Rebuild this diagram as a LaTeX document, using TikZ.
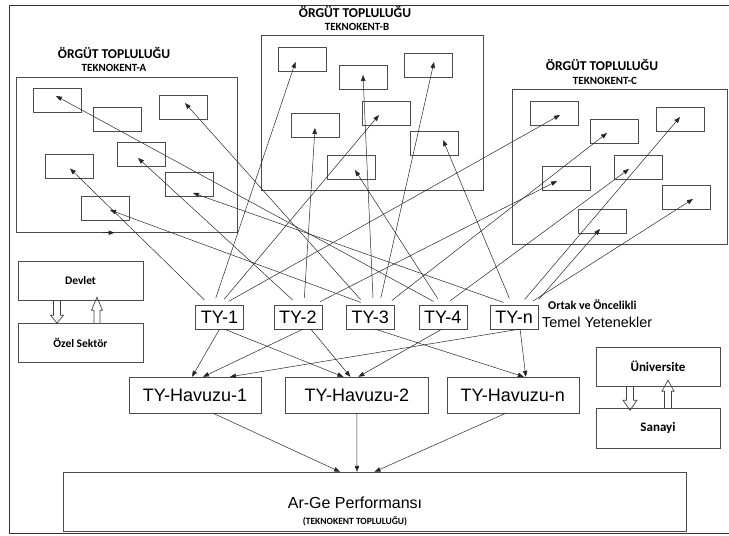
\documentclass[tikz,border=0pt]{standalone}
\usepackage{fontspec}
\setmainfont{Liberation Sans}
\newfontfamily\calfont{Carlito}
\usetikzlibrary{positioning,arrows.meta}

\begin{document}
\begin{tikzpicture}[x=1pt,y=-1pt,
    every node/.style={inner sep=1pt},
    cell/.style={draw=black!70,minimum width=48pt,minimum height=24pt},
    group/.style={draw=black!70,minimum height=155pt},
    ty/.style={draw=black!70,minimum width=48pt,minimum height=24pt,font=\fontsize{18}{20}\selectfont},
    pool/.style={draw=black!70,minimum width=132pt,minimum height=36pt,font=\fontsize{18}{20}\selectfont},
    actor/.style={draw=black!70,minimum width=125pt,minimum height=39pt,font=\calfont\bfseries\fontsize{11.5}{13}\selectfont},
    title/.style={inner sep=0pt,font=\calfont\bfseries\fontsize{13.5}{15}\selectfont},
    subtitle/.style={inner sep=0pt,font=\calfont\bfseries\fontsize{11}{13}\selectfont},
    tip/.style={black!85,line width=0.5pt,-{Triangle[length=6pt,width=4.5pt]}},
    hollow/.style={black!75,line width=0.7pt}
  ]
   \useasboundingbox (0,0) rectangle (729,536);
   \draw[black!80,line width=1pt] (729,5) -- (9,5) -- (9,533) -- (729,533);

   % organisation groups
   \node[group,minimum width=221pt] (grp_a) at (126.5,155) {};
   \node[group,minimum width=222pt] (grp_b) at (372,112.5) {};
   \node[group,minimum width=215pt] (grp_c) at (620,166.5) {};
   \node[title] (ttl_a) at (114,53) {ÖRGÜT TOPLULUĞU};
   \node[subtitle] (sub_a) at (114,68) {TEKNOKENT-A};
   \node[title] (ttl_b) at (355,12) {ÖRGÜT TOPLULUĞU};
   \node[subtitle] (sub_b) at (357,26.5) {TEKNOKENT-B};
   \node[title] (ttl_c) at (602,65) {ÖRGÜT TOPLULUĞU};
   \node[subtitle] (sub_c) at (605,81) {TEKNOKENT-C};

   \node[cell] (a_1) at (57,100.5) {};
   \node[cell] (a_2) at (117.5,119) {};
   \node[cell] (a_3) at (183.5,107) {};
   \node[cell] (a_4) at (141.5,154.5) {};
   \node[cell] (a_5) at (69,166.5) {};
   \node[cell] (a_6) at (189,184) {};
   \node[cell] (a_7) at (105,208) {};

   \node[cell] (b_1) at (302.5,59) {};
   \node[cell] (b_2) at (363,77) {};
   \node[cell] (b_3) at (428.5,65) {};
   \node[cell] (b_4) at (315,125) {};
   \node[cell] (b_5) at (386.5,113) {};
   \node[cell] (b_6) at (434.5,143) {};
   \node[cell] (b_7) at (351,167) {};

   \node[cell] (c_1) at (554.5,113) {};
   \node[cell] (c_2) at (614,131) {};
   \node[cell] (c_3) at (680,119) {};
   \node[cell] (c_4) at (566,178.5) {};
   \node[cell] (c_5) at (638,167) {};
   \node[cell] (c_6) at (686.5,197) {};
   \node[cell] (c_7) at (602,221) {};

   % core competences
   \node[ty] (ty_1) at (219.5,317) {TY-1};
   \node[ty,right=30pt of ty_1] (ty_2) {TY-2};
   \node[ty,right=24pt of ty_2] (ty_3) {TY-3};
   \node[ty,right=24pt of ty_3] (ty_4) {TY-4};
   \node[ty,right=23pt of ty_4] (ty_n) {TY-n};
   \node[subtitle,font=\calfont\bfseries\fontsize{12}{14}\selectfont,anchor=west] (ortak) at (548,305) {Ortak ve Öncelikli};
   \node[inner sep=0pt,font=\fontsize{14.4}{16}\selectfont,anchor=west] (temel) at (542,322) {Temel Yetenekler};

   % pools
   \node[pool] (hv_1) at (195,395) {TY-Havuzu-1};
   \node[pool,minimum width=143pt,right=24pt of hv_1] (hv_2) {TY-Havuzu-2};
   \node[pool,right=18pt of hv_2] (hv_n) {TY-Havuzu-n};

   \node[draw=black!70,minimum width=623pt,minimum height=59pt] (arge) at (374.5,501.5) {};
   \node[font=\fontsize{16}{18}\selectfont] (arge_t) at (355,503) {Ar-Ge Performansı};
   \node[font=\calfont\bfseries\fontsize{9.5}{11}\selectfont] (arge_s) at (355,521) {(TEKNOKENT TOPLULUĞU)};

   % actors
   \node[actor] (dev) at (80.5,280.5) {Devlet};
   \node[actor,below=23pt of dev] (ozel) {Özel Sektör};
   \node[actor,minimum width=124pt,font=\calfont\bfseries\fontsize{13}{15}\selectfont] (uni) at (658,366.5) {Üniversite};
   \node[actor,minimum width=124pt,minimum height=40pt,font=\calfont\bfseries\fontsize{13}{15}\selectfont,below=22pt of uni] (san) {Sanayi};

   \draw[hollow] ([xshift=-23.5pt]dev.south) ++(-3.5,0) -- ++(0,15) -- ++(-3,0) -- ++(6.5,8) -- ++(6.5,-8) -- ++(-3,0) -- ++(0,-15);
   \draw[hollow] ([xshift=16.5pt]ozel.north) ++(-3,0) -- ++(0,-13) -- ++(-2.5,0) -- ++(5.5,-13) -- ++(5.5,13) -- ++(-2.5,0) -- ++(0,13);
   \draw[hollow] ([xshift=-28pt]uni.south) ++(-3.5,0) -- ++(0,14) -- ++(-3.5,0) -- ++(7,10) -- ++(7,-10) -- ++(-3.5,0) -- ++(0,-14);
   \draw[hollow] ([xshift=10pt]san.north) ++(-3.5,0) -- ++(0,-17) -- ++(-2.5,0) -- ++(6,-11) -- ++(6,11) -- ++(-2.5,0) -- ++(0,17);

   % links to the groups
   \path[tip,shorten <=7pt]
    ([xshift=-10pt]ty_1.north) edge ([shift={(1,2)}]a_5.center)
    ([xshift=-6pt]ty_1.north) edge ([shift={(-7,3)}]b_1.center)
    (ty_1.north) edge ([shift={(-7.5,2)}]b_5.center)
    ([xshift=3pt]ty_1.north) edge ([shift={(5.5,2)}]c_1.center)
    (ty_2.north) edge ([shift={(-3.5,3.5)}]a_4.center)
    ([xshift=6pt]ty_2.north) edge ([shift={(0,3)}]b_4.center)
    ([xshift=16pt]ty_2.north) edge ([shift={(-9,2.5)}]c_4.center)
    ([xshift=-5pt]ty_3.north) edge ([shift={(1.5,-4)}]a_3.center)
    ([xshift=-3pt]ty_3.north) edge ([shift={(5,2)}]a_7.center)
    ([xshift=3pt]ty_3.north) edge ([shift={(0,-2)}]b_2.center)
    ([xshift=9pt]ty_3.north) edge ([shift={(5.5,-3)}]b_3.center)
    ([xshift=16pt]ty_3.north) edge ([shift={(-7,2)}]c_2.center)
    ([xshift=-3pt]ty_4.north) edge ([shift={(-1,-4.5)}]a_1.center)
    ([xshift=-1pt]ty_4.north) edge ([shift={(4,3)}]b_7.center)
    ([xshift=2pt]ty_4.north) edge ([shift={(-9,2)}]c_5.center)
    ([xshift=-4pt]ty_n.north) edge ([shift={(4,9)}]a_6.center)
    ([xshift=-2pt]ty_n.north) edge ([shift={(8.5,-3)}]b_6.center)
    ([xshift=6pt]ty_n.north) edge ([shift={(0,-2)}]c_3.center)
    ([xshift=13pt]ty_n.north) edge ([shift={(6.5,2)}]c_6.center)
    ([xshift=20pt]ty_n.north) edge ([shift={(-2,8)}]c_7.center);
   \draw[tip] ([xshift=-24pt]grp_a.south) -- ([xshift=-12pt]grp_a.south);

   % links to the pools
   \path[tip]
    (ty_1.south) edge ([xshift=-3pt]hv_1.north)
    ([xshift=5pt]ty_1.south) edge ([xshift=-13.5pt]hv_2.north)
    ([xshift=5pt]ty_2.south) edge ([xshift=8pt]hv_1.north)
    ([xshift=13pt]ty_2.south) edge ([xshift=-6.5pt]hv_2.north)
    ([xshift=5pt]ty_3.south) edge ([xshift=11pt]hv_n.north)
    ([xshift=-1pt]ty_4.south) edge ([xshift=1.5pt]hv_2.north)
    ([xshift=5pt]ty_n.south) edge ([xshift=35pt]hv_1.north)
    ([xshift=6pt]ty_n.south) edge ([xshift=13pt]hv_n.north);

   \path[tip]
    ([xshift=18pt]hv_1.south) edge ([xshift=-34.5pt]arge.north)
    (hv_2.south) edge ([xshift=-17.5pt]arge.north)
    ([xshift=-7pt]hv_n.south) edge (arge.north);
\end{tikzpicture}
\end{document}
